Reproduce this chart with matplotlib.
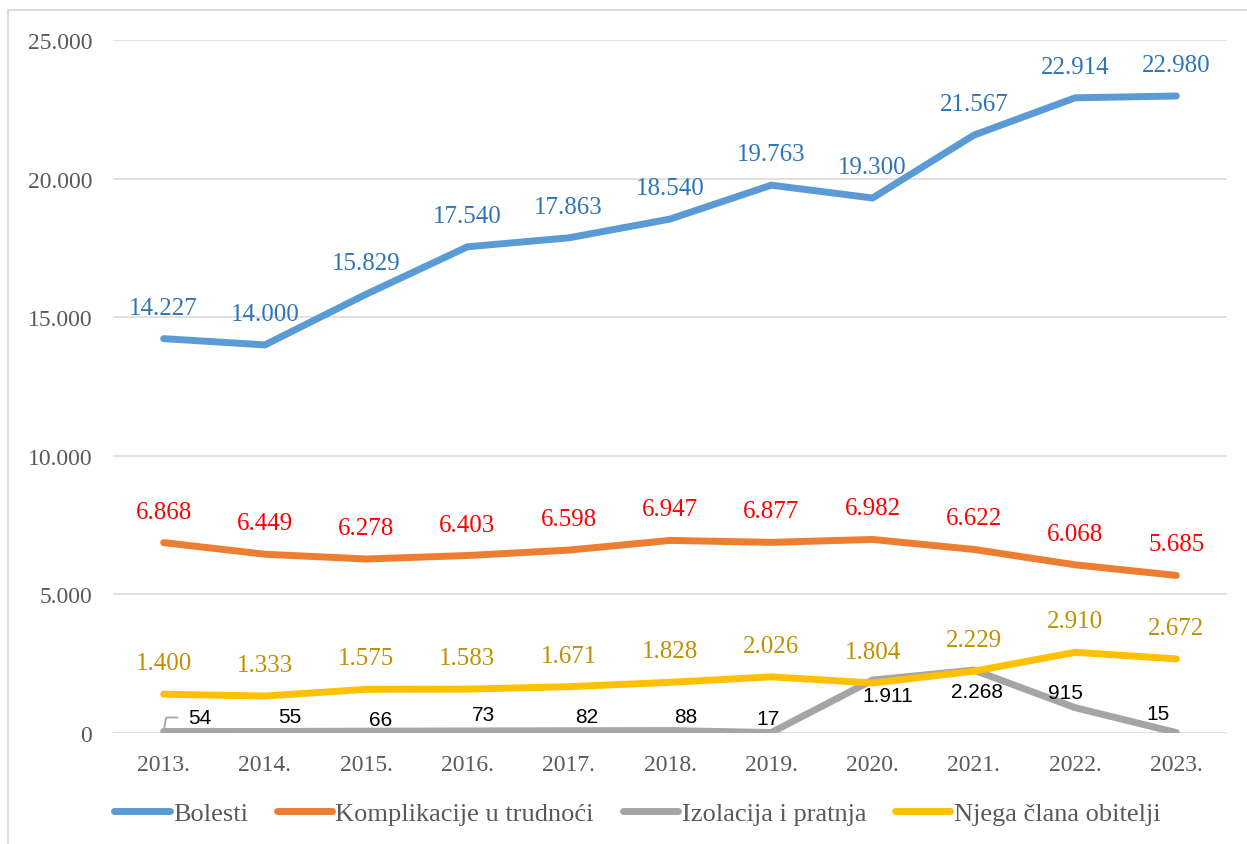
import matplotlib.pyplot as plt
from matplotlib.patches import Rectangle
from matplotlib.ticker import FuncFormatter

godine = ['2013.', '2014.', '2015.', '2016.', '2017.', '2018.', '2019.',
          '2020.', '2021.', '2022.', '2023.']
bolesti = [14227, 14000, 15829, 17540, 17863, 18540, 19763, 19300, 21567, 22914, 22980]
komplikacije = [6868, 6449, 6278, 6403, 6598, 6947, 6877, 6982, 6622, 6068, 5685]
izolacija = [54, 55, 66, 73, 82, 88, 17, 1911, 2268, 915, 15]
njega = [1400, 1333, 1575, 1583, 1671, 1828, 2026, 1804, 2229, 2910, 2672]

nazivi = ['Bolesti', 'Komplikacije u trudnoći', 'Izolacija i pratnja', 'Njega člana obitelji']
boje = ['#5B9BD5', '#ED7D31', '#A5A5A5', '#FFC000']
boje_oznaka = ['#2E75B6', '#FF0000', '#000000', '#BF9000']

# pomaci oznaka za sivu liniju (pikseli)
sivi_dx = [36, 25, 14, 16, 18, 16, -3, 15, 3, -10, -18]
sivi_dy = [14, 15, 12, 16, 14, 14, 14, -15, -21, 15, 19]

serif = 'Liberation Serif'
fs = 17


def fmt(v):
    return f'{int(v):,}'.replace(',', '.')


fig = plt.figure(figsize=(12.47, 8.45), dpi=100)
ax = fig.add_axes([113 / 1247, 1 - 734 / 845, 1114 / 1247, (734 - 41) / 845])

x = list(range(len(godine)))
serije = [bolesti, komplikacije, izolacija, njega]
for s, ime, b in zip(serije, nazivi, boje):
    ax.plot(x, s, color=b, lw=5, label=ime, solid_capstyle='round',
            solid_joinstyle='miter', zorder=3)

for s, bo in [(bolesti, boje_oznaka[0]), (komplikacije, boje_oznaka[1]), (njega, boje_oznaka[3])]:
    for i, v in enumerate(s):
        ax.annotate(fmt(v), (i, v), xytext=(0, 31),
                    textcoords='offset pixels', ha='center', va='center',
                    color=bo, fontsize=18, family=serif, zorder=5)

for i, v in enumerate(izolacija):
    ax.annotate(fmt(v), (i, v), xytext=(sivi_dx[i], sivi_dy[i]),
                textcoords='offset pixels', ha='center', va='center',
                color='black', fontsize=15, family='Liberation Sans', zorder=5)

# linija vodilica za prvu oznaku
ax.annotate('', (0, izolacija[0]), xytext=(14, 14), textcoords='offset pixels',
            arrowprops=dict(arrowstyle='-', color='#A5A5A5', lw=1.3,
                            shrinkA=0, shrinkB=0,
                            connectionstyle='angle,angleA=0,angleB=80,rad=0'))

ax.set_xlim(-0.5, len(godine) - 0.5)
ax.set_ylim(0, 25000)
ax.set_yticks(range(0, 25001, 5000))
ax.yaxis.set_major_formatter(FuncFormatter(lambda v, p: fmt(v)))
ax.set_xticks(x)
ax.set_xticklabels(godine)
ax.grid(axis='y', color='#D9D9D9', lw=1.1, zorder=0)
for sp in ax.spines.values():
    sp.set_visible(False)
ax.tick_params(length=0, labelsize=fs, labelcolor='#595959')
ax.tick_params(axis='y', pad=15)
ax.tick_params(axis='x', pad=15)
for t in ax.get_xticklabels() + ax.get_yticklabels():
    t.set_family(serif)

leg = fig.legend(loc='center', bbox_to_anchor=(0.511, 0.036), ncol=4, frameon=False,
                 prop={'family': serif, 'size': 19}, handlelength=2.1,
                 handletextpad=0.12, columnspacing=1.1)
for t in leg.get_texts():
    t.set_color('#595959')

fig.patches.append(Rectangle((8 / 1247, -0.05), 1.1, 1.05 - 11 / 845,
                             transform=fig.transFigure, fill=False,
                             edgecolor='#D9D9D9', lw=1.3))

fig.savefig('out.png', dpi=100)
